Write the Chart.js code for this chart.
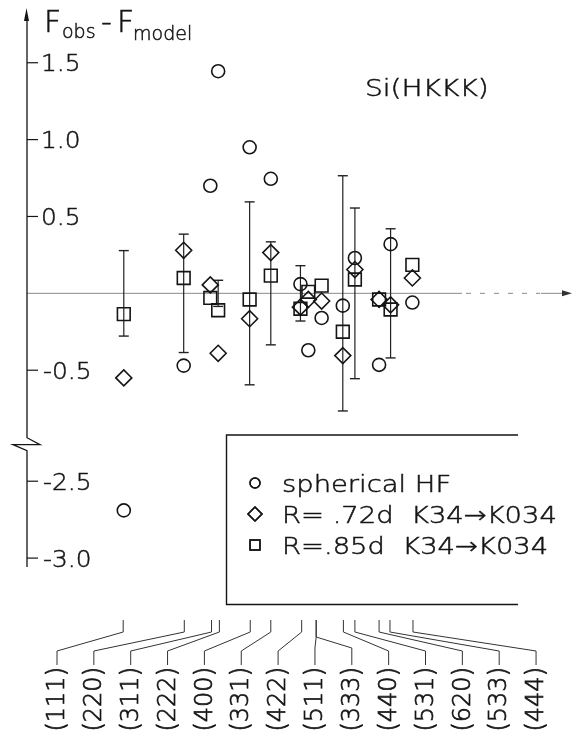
<!DOCTYPE html>
<html>
<head>
<meta charset="utf-8">
<script src="https://cdn.jsdelivr.net/npm/chart.js@4.4.0/dist/chart.umd.min.js"></script>
<style>
  html, body { margin: 0; background: #fff; }
  canvas { display: block; }
</style>
</head>
<body>
<canvas id="chart" width="573" height="738"></canvas>
<script>
"use strict";

// Reflections of Si and their sin(theta)/lambda position on the x axis
const reflections = ["(111)", "(220)", "(311)", "(222)", "(400)", "(331)", "(422)",
                     "(511)", "(333)", "(440)", "(531)", "(620)", "(533)", "(444)"];
const sinThetaLambda = [0.159, 0.260, 0.305, 0.318, 0.369, 0.403, 0.454,
                        0.478, 0.478, 0.523, 0.542, 0.582, 0.600, 0.638];
// (511) and (333) share a position, their markers are pulled apart a little
const markerX = [0.160, 0.259, 0.303, 0.316, 0.368, 0.403, 0.452,
                 0.465, 0.487, 0.522, 0.542, 0.582, 0.601, 0.637];

// F_obs - F_model for the three models
const sphericalHF = [-2.69, -0.47, 0.70, 1.445, 0.95, 0.745, 0.06,
                     -0.37, -0.16, -0.08, 0.23, -0.465, 0.32, -0.06];
const model72 = [-0.55, 0.28, 0.055, -0.39, -0.165, 0.265, -0.09,
                 -0.04, -0.05, -0.405, 0.155, -0.04, -0.075, 0.10];
const model85 = [-0.135, 0.10, -0.03, -0.11, -0.04, 0.115, -0.10,
                 0.01, 0.05, -0.25, 0.09, -0.04, -0.105, 0.185];
// experimental uncertainty, drawn around zero
const sigma = [0.278, 0.385, null, 0.085, 0.595, 0.335, 0.18,
               null, null, 0.765, 0.555, null, 0.42, null];

const yTicks = [1.5, 1.0, 0.5, -0.5, -2.5, -3.0];
const seriesNames = ["spherical HF", "R= .72d  K34\u2192K034", "R=.85d  K34\u2192K034"];

// the y axis is broken between -0.9 and -2.3
const BREAK_AT = -1.0;
const BREAK_SHIFT = 1.278;
function toAxis(v) {
	return v < BREAK_AT ? v + BREAK_SHIFT : v;
}

const FAMILY = '"DejaVu Sans", sans-serif';
const WEIGHT = "200";
const INK = "#151515";

function points(values) {
	return values.map((v, i) => ({ x: markerX[i], y: toAxis(v) }));
}

function errorPoints() {
	const out = [];
	sigma.forEach(function (s, i) {
		if (s === null) return;
		out.push({ x: markerX[i], y: -s }, { x: markerX[i], y: s }, { x: markerX[i], y: null });
	});
	return out;
}

// thin lettering, thickened a little with a stroke
function drawText(ctx, str, x, y, size, sx) {
	ctx.save();
	ctx.font = WEIGHT + " " + size + "px " + FAMILY;
	ctx.fillStyle = INK;
	ctx.strokeStyle = INK;
	ctx.lineWidth = 0.5;
	ctx.textAlign = "left";
	ctx.textBaseline = "alphabetic";
	ctx.translate(x, y);
	ctx.scale(sx || 1, 1);
	ctx.fillText(str, 0, 0);
	ctx.strokeText(str, 0, 0);
	ctx.restore();
}

const decor = {
	id: "decor",
	beforeDatasetsDraw(chart) {
		const ctx = chart.ctx;
		const xs = chart.scales.x;
		const ys = chart.scales.y;
		const x0 = xs.getPixelForValue(0);
		const y0 = ys.getPixelForValue(0);
		const top = chart.chartArea.top;
		const bottom = chart.chartArea.bottom;

		ctx.save();
		// zero line, dashed towards the right end
		ctx.strokeStyle = "#8a8a8a";
		ctx.lineWidth = 1;
		ctx.beginPath();
		ctx.moveTo(x0, y0);
		ctx.lineTo(462, y0);
		ctx.moveTo(541, y0);
		ctx.lineTo(566, y0);
		ctx.stroke();
		ctx.setLineDash([5, 9]);
		ctx.beginPath();
		ctx.moveTo(466, y0);
		ctx.lineTo(540, y0);
		ctx.stroke();
		ctx.setLineDash([]);
		ctx.fillStyle = "#333";
		ctx.beginPath();
		ctx.moveTo(572, y0);
		ctx.lineTo(562, y0 - 3);
		ctx.lineTo(562, y0 + 3);
		ctx.closePath();
		ctx.fill();

		// y axis with the break
		const yBreak = ys.getPixelForValue(-0.9);
		ctx.strokeStyle = INK;
		ctx.lineWidth = 1.3;
		ctx.beginPath();
		ctx.moveTo(x0, top + 6);
		ctx.lineTo(x0, yBreak + 6);
		ctx.lineTo(x0 + 13, yBreak + 13);
		ctx.lineTo(x0 - 14, yBreak + 13);
		ctx.lineTo(x0, yBreak + 19);
		ctx.lineTo(x0, bottom);
		ctx.stroke();
		ctx.fillStyle = INK;
		ctx.beginPath();
		ctx.moveTo(x0 - 0.5, top - 4);
		ctx.lineTo(x0 - 3, top + 9);
		ctx.lineTo(x0 + 2, top + 9);
		ctx.closePath();
		ctx.fill();

		// y ticks
		ctx.lineWidth = 1.2;
		yTicks.forEach(function (v) {
			const py = ys.getPixelForValue(toAxis(v));
			ctx.beginPath();
			ctx.moveTo(x0, py);
			ctx.lineTo(x0 + 11, py);
			ctx.stroke();
			drawText(ctx, v.toFixed(1), v < 0 ? x0 + 16 : x0 + 14, py + 8.5, 23, 1.08);
		});

		// x ticks and leader lines to the reflection labels
		ctx.lineWidth = 1;
		ctx.strokeStyle = "#333";
		reflections.forEach(function (name, i) {
			const tx = xs.getPixelForValue(sinThetaLambda[i]);
			const lx = 57 + i * 36.85;
			const split = i > 0 && sinThetaLambda[i] === sinThetaLambda[i - 1] ||
				sinThetaLambda[i] === sinThetaLambda[i + 1];
			ctx.beginPath();
			ctx.moveTo(tx, 620);
			ctx.lineTo(tx, split ? 637 : 632);
			ctx.lineTo(lx, split ? 648 : 651);
			ctx.lineTo(lx, 665);
			ctx.stroke();

			ctx.save();
			ctx.translate(lx, 667);
			ctx.rotate(-Math.PI / 2);
			ctx.font = WEIGHT + " 24px " + FAMILY;
			ctx.fillStyle = INK;
			ctx.strokeStyle = INK;
			ctx.lineWidth = 0.7;
			ctx.textAlign = "right";
			ctx.textBaseline = "middle";
			ctx.fillText(name, 0, 1);
			ctx.strokeText(name, 0, 1);
			ctx.restore();
		});
		ctx.restore();
	},
	afterDraw(chart) {
		const ctx = chart.ctx;
		ctx.save();
		// axis title F_obs - F_model
		drawText(ctx, "F", 44, 32, 30);
		drawText(ctx, "obs", 62, 38, 19);
		drawText(ctx, "-", 101, 32, 30);
		drawText(ctx, "F", 117, 32, 30);
		drawText(ctx, "model", 133, 40, 19);
		drawText(ctx, "Si(HKKK)", 365, 96, 23, 1.22);

		// legend box, open on the right
		ctx.strokeStyle = INK;
		ctx.lineWidth = 1.4;
		ctx.beginPath();
		ctx.moveTo(518, 435);
		ctx.lineTo(226.5, 435);
		ctx.lineTo(226.5, 604.5);
		ctx.lineTo(518, 604.5);
		ctx.stroke();

		const rows = [483, 514, 545];
		const radii = [5, 7, 7];
		chart.data.datasets.slice(0, 3).forEach(function (ds, i) {
			Chart.helpers.drawPoint(ctx, {
				pointStyle: ds.pointStyle,
				radius: radii[i],
				borderWidth: 1.5,
				rotation: 0
			}, 255, rows[i]);
			ctx.strokeStyle = INK;
			ctx.lineWidth = 1.5;
			ctx.stroke();
			drawText(ctx, ds.label, 282, rows[i] + 8.5, 23, 1.19);
		});
		ctx.restore();
	}
};

function series(label, values, style, radius) {
	return {
		label: label,
		data: points(values),
		pointStyle: style,
		pointRadius: radius,
		pointBorderWidth: 1.6,
		pointBorderColor: INK,
		pointBackgroundColor: "rgba(0,0,0,0)",
		showLine: false
	};
}

new Chart(document.getElementById("chart"), {
	type: "scatter",
	data: {
		datasets: [
			series(seriesNames[0], sphericalHF, "circle", 6.5),
			series(seriesNames[1], model72, "rectRot", 8),
			series(seriesNames[2], model85, "rect", 9),
			{
				label: "sigma",
				type: "line",
				data: errorPoints(),
				showLine: true,
				spanGaps: false,
				borderColor: "#222",
				borderWidth: 1.2,
				pointStyle: "line",
				pointRadius: 5,
				pointBorderWidth: 1.4,
				pointBorderColor: "#222"
			}
		]
	},
	options: {
		responsive: false,
		devicePixelRatio: 1,
		animation: false,
		events: [],
		layout: { padding: { left: 27, right: 3, top: 12, bottom: 171 } },
		scales: {
			x: { type: "linear", min: 0, max: 0.885, display: false },
			y: { type: "linear", min: -1.78, max: 1.83, display: false }
		},
		plugins: {
			legend: { display: false },
			tooltip: { enabled: false }
		},
		elements: { point: { hitRadius: 0 } },
		clip: false
	},
	plugins: [decor]
});
</script>
</body>
</html>
